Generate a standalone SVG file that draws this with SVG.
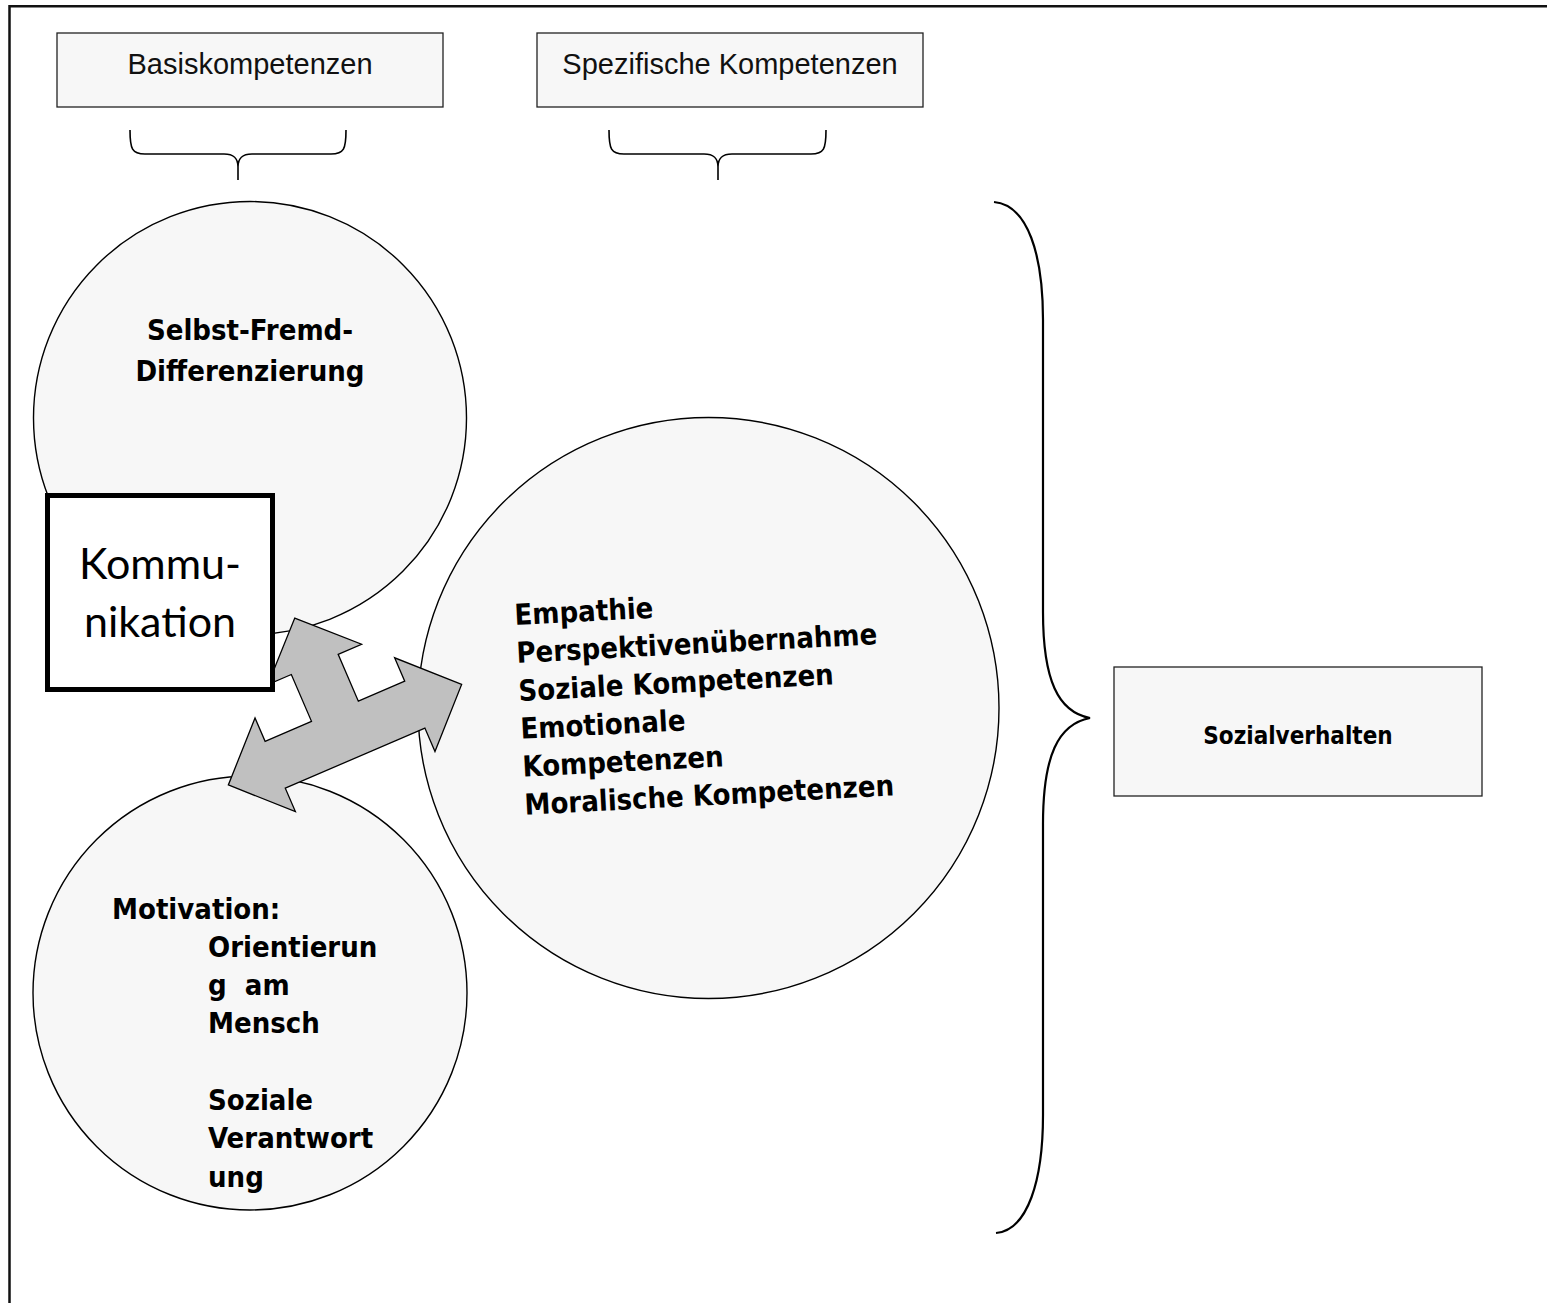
<svg xmlns="http://www.w3.org/2000/svg" width="1547" height="1303" viewBox="0 0 1547 1303">
  <style>
    .frame { fill: none; stroke: #111; stroke-width: 2.5; }
    .hdr { fill: #f7f7f7; stroke: #222; stroke-width: 1.3; }
    .hdr-text { font-family: "Liberation Sans", Arial, sans-serif; font-size: 29px; fill: #111; text-anchor: middle; }
    .brace { fill: none; stroke: #000; stroke-width: 1.6; }
    .brace-big { fill: none; stroke: #000; stroke-width: 2.2; }
    .circle { fill: #f7f7f7; stroke: #000; stroke-width: 1.4; }
    .bold { font-family: "DejaVu Sans Condensed", "DejaVu Sans", sans-serif; font-stretch: condensed; font-weight: bold; font-size: 29px; fill: #000; }
    .komm-box { fill: #fff; stroke: #000; stroke-width: 5; }
    .komm-text { font-family: Lato, "Open Sans", sans-serif; font-size: 43px; fill: #000; text-anchor: middle; }
    .arrow { fill: #c0c0c0; stroke: #000; stroke-width: 1.3; stroke-linejoin: miter; }
  </style>

  <!-- page frame (only top and left edges fall inside the canvas) -->
  <path class="frame" d="M9.5,1303 L9.5,6.3 L1547,6.3"/>

  <!-- header labels -->
  <g id="basiskompetenzen">
    <rect class="hdr" x="57" y="33" width="386" height="74"/>
    <text class="hdr-text" x="250" y="74">Basiskompetenzen</text>
  </g>
  <g id="spezifische-kompetenzen">
    <rect class="hdr" x="537" y="33" width="386" height="74"/>
    <text class="hdr-text" x="730" y="74">Spezifische Kompetenzen</text>
  </g>

  <!-- circles -->
  <g id="selbst-fremd">
    <circle class="circle" cx="250" cy="418" r="216.5"/>
    <text class="bold" x="250" y="340" text-anchor="middle">Selbst-Fremd-</text>
    <text class="bold" x="250" y="381" text-anchor="middle">Differenzierung</text>
  </g>

  <g id="spezifisch">
    <circle class="circle" cx="708.5" cy="708" r="290.5"/>
    <g transform="translate(515,625) rotate(-3)">
      <text class="bold" x="0" y="0">Empathie</text>
      <text class="bold" x="0" y="38">Perspektivenübernahme</text>
      <text class="bold" x="0" y="76">Soziale Kompetenzen</text>
      <text class="bold" x="0" y="114">Emotionale</text>
      <text class="bold" x="0" y="152">Kompetenzen</text>
      <text class="bold" x="0" y="190">Moralische Kompetenzen</text>
    </g>
  </g>

  <g id="motivation">
    <circle class="circle" cx="250" cy="993" r="217"/>
    <text class="bold" x="112" y="919">Motivation:</text>
    <text class="bold" x="208" y="957">Orientierun</text>
    <text class="bold" x="208" y="995" xml:space="preserve">g  am</text>
    <text class="bold" x="208" y="1033">Mensch</text>
    <text class="bold" x="208" y="1110">Soziale</text>
    <text class="bold" x="208" y="1148">Verantwort</text>
    <text class="bold" x="208" y="1187">ung</text>
  </g>

  <!-- connectors: braces and the three-way arrow -->
  <g id="connectors">
    <path class="brace" d="M130,130 C130,149 132,154 145,154 L224,154 C234,154 238,158 238,167 L238,180 M238,167 C238,158 242,154 252,154 L331,154 C344,154 346,149 346,130"/>
    <path class="brace" d="M609,130 C609,149 611,154 624,154 L704,154 C714,154 718,158 718,167 L718,180 M718,167 C718,158 722,154 732,154 L811,154 C824,154 826,149 826,130"/>
    <path class="brace-big" d="M994,202 C1028,205 1043,255 1043,320 L1043,612 C1043,680 1058,712 1090,718 C1058,724 1043,756 1043,824 L1043,1115 C1043,1180 1028,1230 996,1233"/>
    <polygon class="arrow" transform="translate(345,734.7) rotate(-23.3)"
      points="0,-127 51,-76.5 25.5,-76.5 25.5,-25.5 76,-25.5 76,-51 127,0 76,51 76,25.5 -76,25.5 -76,51 -127,0 -76,-51 -76,-25.5 -25.5,-25.5 -25.5,-76.5 -51,-76.5"/>
  </g>

  <g id="kommunikation">
    <rect class="komm-box" x="47.5" y="495.5" width="225" height="194"/>
    <text class="komm-text" x="160" y="579">Kommu-</text>
    <text class="komm-text" x="160" y="637">nikation</text>
  </g>

  <g id="sozialverhalten">
    <rect class="hdr" x="1114" y="667" width="368" height="129"/>
    <text class="bold" x="1298" y="744" text-anchor="middle" style="font-size:24px">Sozialverhalten</text>
  </g>
</svg>
